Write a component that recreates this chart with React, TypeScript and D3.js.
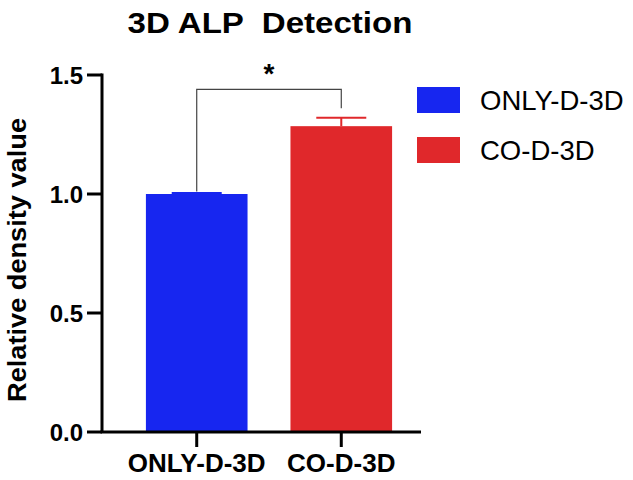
import React from 'react';
import * as d3 from 'd3';

const categories = ['ONLY-D-3D', 'CO-D-3D'];
const means = [1.0, 1.285];
const errors = [0.004, 0.035];
const yTicks = [0, 0.5, 1.0, 1.5];
const colors = ['#1726F0', '#E0282B'];

const W = 633;
const H = 480;
const axisX = 102;
const axisY = 432;
const plotRight = 421;
const font = 'Arial, "Liberation Sans", Helvetica, sans-serif';

export default function App() {
  const y = d3.scaleLinear().domain([0, 1.5]).range([axisY, 75]);
  const x = d3.scaleBand().domain(categories).range([117, plotRight]).paddingInner(0.297).paddingOuter(0.2);
  const bw = x.bandwidth();
  const cx = (c: string) => (x(c) as number) + bw / 2;

  const bracketTop = y(1.44);
  const leftEnd = y(1.01);
  const rightEnd = y(1.36);

  return (
    <div style={{ position: 'absolute', left: 0, top: 0 }}>
      <svg width={W} height={H} style={{ display: 'block', background: '#fff' }} fontFamily={font}>
        <text x={270} y={33} textAnchor="middle" fontSize={30} fontWeight="bold" xmlSpace="preserve" textLength={285} lengthAdjust="spacingAndGlyphs">3D ALP  Detection</text>

        {categories.map((c, i) => (
          <g key={c}>
            <rect x={x(c)} y={y(means[i])} width={bw} height={axisY - y(means[i])} fill={colors[i]} />
            <line x1={cx(c)} x2={cx(c)} y1={y(means[i])} y2={y(means[i] + errors[i])} stroke={colors[i]} strokeWidth={2} />
            <line x1={cx(c) - 25} x2={cx(c) + 25} y1={y(means[i] + errors[i])} y2={y(means[i] + errors[i])} stroke={colors[i]} strokeWidth={2} />
          </g>
        ))}

        {/* y axis */}
        <line x1={axisX} x2={axisX} y1={y(1.5) - 1.5} y2={axisY} stroke="#000" strokeWidth={3} />
        {yTicks.map(t => (
          <g key={t}>
            <line x1={axisX - 15} x2={axisX} y1={y(t)} y2={y(t)} stroke="#000" strokeWidth={3} />
            <text x={axisX - 19} y={y(t)} dy="0.36em" textAnchor="end" fontSize={24} fontWeight="bold">{d3.format('.1f')(t)}</text>
          </g>
        ))}
        <text transform={`translate(26,260) rotate(-90)`} textAnchor="middle" fontSize={25} fontWeight="bold" textLength={284} lengthAdjust="spacingAndGlyphs">Relative density value</text>

        {/* x axis */}
        <line x1={axisX - 1.5} x2={plotRight} y1={axisY} y2={axisY} stroke="#000" strokeWidth={3} />
        {categories.map(c => (
          <g key={c}>
            <line x1={cx(c)} x2={cx(c)} y1={axisY} y2={axisY + 15} stroke="#000" strokeWidth={3} />
            <text x={cx(c)} y={axisY + 40} textAnchor="middle" fontSize={26} fontWeight="bold">{c}</text>
          </g>
        ))}

        {/* significance bracket */}
        <path d={`M${cx(categories[0])},${leftEnd}V${bracketTop}H${cx(categories[1])}V${rightEnd}`} fill="none" stroke="#444" strokeWidth={1.2} />
        <text x={(cx(categories[0]) + cx(categories[1])) / 2} y={bracketTop - 6} textAnchor="middle" fontSize={28} fontWeight="bold">*</text>

        {/* legend */}
        {categories.map((c, i) => (
          <g key={c} transform={`translate(417,${87 + i * 50})`}>
            <rect width={43} height={26} fill={colors[i]} />
            <text x={63} y={23} fontSize={27.5}>{c}</text>
          </g>
        ))}
      </svg>
    </div>
  );
}
